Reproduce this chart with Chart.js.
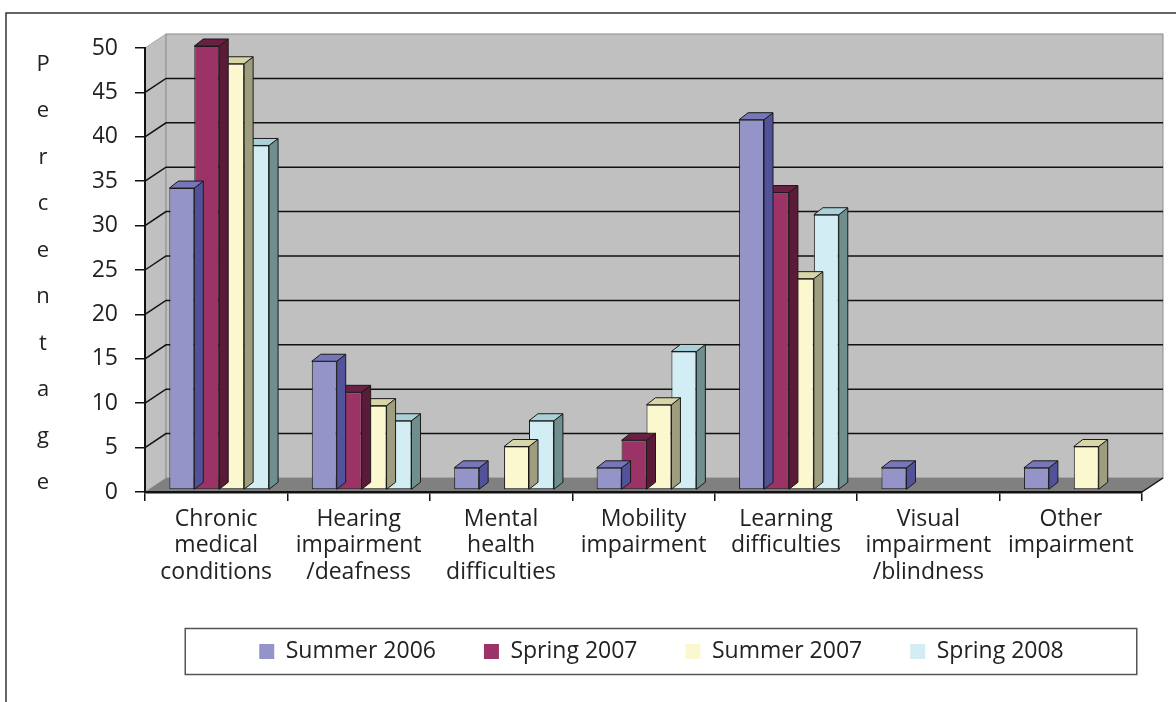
<!DOCTYPE html>
<html>
<head>
<meta charset="utf-8">
<script src="https://cdn.jsdelivr.net/npm/chart.js@4.4.1/dist/chart.umd.min.js"></script>
<style>
  html, body { margin: 0; padding: 0; background: #fff; }
  #wrap { width: 1176px; height: 702px; position: relative; }
</style>
</head>
<body>
<div id="wrap"><canvas id="chart" width="1176" height="702"></canvas></div>
<script>
const categories = [
  ["Chronic", "medical", "conditions"],
  ["Hearing", "impairment", "/deafness"],
  ["Mental", "health", "difficulties"],
  ["Mobility", "impairment"],
  ["Learning", "difficulties"],
  ["Visual", "impairment", "/blindness"],
  ["Other", "impairment"]
];
const seriesNames = ["Summer 2006", "Spring 2007", "Summer 2007", "Spring 2008"];
const summer2006 = [34, 14.5, 2.5, 2.5, 41.7, 2.5, 2.5];
const spring2007 = [50, 11, 0, 5.6, 33.5, 0, 0];
const summer2007 = [48, 9.5, 4.9, 9.6, 23.8, 0, 4.9];
const spring2008 = [38.8, 7.8, 7.8, 15.6, 31, 0, 0];
const yTicks = [0, 5, 10, 15, 20, 25, 30, 35, 40, 45, 50];
const axisTitle = "Percentage";

// face colours: front, side, top
const frontColors = ["#9494c8", "#9b3366", "#fbf8d0", "#d2edf3"];
const sideColors = ["#52529a", "#5a1a38", "#9e9e7e", "#6f8f8e"];
const topColors = ["#7676b8", "#6a1f45", "#d8d5a8", "#aad0d8"];

const FONT = "'Open Sans', 'Noto Sans', sans-serif";
const WALL_DX = 21, WALL_DY = -14;
const BAR_DX = 9, BAR_DY = -7;
const BAR_SHIFT_X = 3, BAR_SHIFT_Y = -2;
const LEGEND_SHIFT = 18;

function poly(ctx, pts) {
  ctx.beginPath();
  ctx.moveTo(pts[0][0], pts[0][1]);
  for (let i = 1; i < pts.length; i++) ctx.lineTo(pts[i][0], pts[i][1]);
  ctx.closePath();
}

const box3d = {
  id: "box3d",
  afterLayout(chart) {
    // legend sits a little right of the plot centre in the original
    chart.legend.left += LEGEND_SHIFT;
    chart.legend.right += LEGEND_SHIFT;
  },
  beforeDraw(chart) {
    const { ctx, chartArea: a } = chart;
    const y = chart.scales.y;
    ctx.save();

    // outer frame
    ctx.strokeStyle = "#333";
    ctx.lineWidth = 1.5;
    ctx.beginPath();
    ctx.moveTo(6, chart.height);
    ctx.lineTo(6, 13);
    ctx.lineTo(chart.width, 13);
    ctx.stroke();

    // left wall
    ctx.fillStyle = "#c0c0c0";
    poly(ctx, [[a.left, a.top], [a.left + WALL_DX, a.top + WALL_DY], [a.left + WALL_DX, a.bottom + WALL_DY], [a.left, a.bottom]]);
    ctx.fill();
    ctx.strokeStyle = "#a8a8a8";
    ctx.lineWidth = 1;
    ctx.stroke();

    // back wall
    ctx.fillStyle = "#c0c0c0";
    ctx.fillRect(a.left + WALL_DX, a.top + WALL_DY, a.right - a.left, a.bottom - a.top);
    ctx.strokeStyle = "#8c8c8c";
    ctx.strokeRect(a.left + WALL_DX, a.top + WALL_DY, a.right - a.left, a.bottom - a.top);

    // floor
    ctx.fillStyle = "#808080";
    poly(ctx, [[a.left, a.bottom], [a.left + WALL_DX, a.bottom + WALL_DY], [a.right + WALL_DX, a.bottom + WALL_DY], [a.right, a.bottom]]);
    ctx.fill();
    ctx.strokeStyle = "#111";
    ctx.lineWidth = 1.5;
    ctx.beginPath();
    ctx.moveTo(a.right, a.bottom);
    ctx.lineTo(a.right + WALL_DX, a.bottom + WALL_DY);
    ctx.stroke();

    // gridlines on the walls
    ctx.strokeStyle = "#111";
    ctx.lineWidth = 1.5;
    yTicks.forEach(v => {
      if (v <= y.min || v >= y.max) return;
      const py = y.getPixelForValue(v);
      ctx.beginPath();
      ctx.moveTo(a.left, py);
      ctx.lineTo(a.left + WALL_DX, py + WALL_DY);
      ctx.lineTo(a.right + WALL_DX, py + WALL_DY);
      ctx.stroke();
    });

    // stacked axis title
    ctx.fillStyle = "#222";
    ctx.font = "22px " + FONT;
    ctx.textAlign = "center";
    ctx.textBaseline = "alphabetic";
    const letters = axisTitle.split("");
    const step = (a.bottom - a.top - 26) / (letters.length - 1);
    letters.forEach((ch, i) => ctx.fillText(ch, 43, a.top + 23 + i * step));

    ctx.restore();
  },
  beforeDatasetsDraw(chart) {
    chart.ctx.save();
    chart.ctx.translate(BAR_SHIFT_X, BAR_SHIFT_Y);
  },
  beforeDatasetDraw(chart, args) {
    const { ctx } = chart;
    const idx = args.index;
    const values = chart.data.datasets[idx].data;
    ctx.save();
    ctx.strokeStyle = "#1a1a1a";
    ctx.lineWidth = 1;
    args.meta.data.forEach((el, i) => {
      if (!values[i]) return;
      const p = el.getProps(["x", "y", "base", "width"], true);
      const l = p.x - p.width / 2, r = p.x + p.width / 2;
      ctx.fillStyle = sideColors[idx];
      poly(ctx, [[r, p.y], [r + BAR_DX, p.y + BAR_DY], [r + BAR_DX, p.base + BAR_DY], [r, p.base]]);
      ctx.fill();
      ctx.stroke();
      ctx.fillStyle = topColors[idx];
      poly(ctx, [[l, p.y], [l + BAR_DX, p.y + BAR_DY], [r + BAR_DX, p.y + BAR_DY], [r, p.y]]);
      ctx.fill();
      ctx.stroke();
    });
    ctx.restore();
  },
  afterDatasetsDraw(chart) {
    chart.ctx.restore();
  },
  afterDraw(chart) {
    const { ctx } = chart;
    const boxes = chart.legend.legendHitBoxes;
    if (!boxes || !boxes.length) return;
    const left = Math.min(...boxes.map(b => b.left)) - 74;
    const right = Math.max(...boxes.map(b => b.left + b.width)) + 73;
    const mid = boxes[0].top + boxes[0].height / 2;
    ctx.save();
    ctx.strokeStyle = "#555";
    ctx.lineWidth = 1.5;
    ctx.strokeRect(left, mid - 23, right - left, 46);
    ctx.restore();
  }
};

const seriesValues = [summer2006, spring2007, summer2007, spring2008];

new Chart(document.getElementById("chart"), {
  type: "bar",
  data: {
    labels: categories,
    datasets: seriesValues.map((vals, i) => ({
      label: seriesNames[i],
      data: vals,
      backgroundColor: frontColors[i],
      borderColor: "#1a1a1a",
      borderWidth: 1,
      borderSkipped: false,
      clip: false
    }))
  },
  options: {
    responsive: false,
    animation: false,
    categoryPercentage: 0.7,
    barPercentage: 1,
    layout: { padding: { left: 93, top: 48, right: 34, bottom: 29 } },
    plugins: {
      tooltip: { enabled: false },
      legend: {
        position: "bottom",
        fullSize: false,
        labels: {
          font: { family: FONT, size: 23 },
          color: "#222",
          boxWidth: 15,
          boxHeight: 15,
          padding: 48,
          generateLabels(chart) {
            return Chart.defaults.plugins.legend.labels.generateLabels(chart)
              .map(it => Object.assign(it, { strokeStyle: it.fillStyle, lineWidth: 0 }));
          }
        }
      }
    },
    scales: {
      x: {
        grid: { display: true, offset: true, drawOnChartArea: false, drawTicks: true, tickLength: 9, color: "#111", lineWidth: 1.5 },
        border: { display: true, color: "#111", width: 2.5 },
        ticks: { font: { family: FONT, size: 23, lineHeight: 1.15 }, color: "#222", padding: 5, maxRotation: 0, autoSkip: false },
        afterFit(s) { s.height = 100; }
      },
      y: {
        min: 0,
        max: 50,
        afterBuildTicks(s) { s.ticks = yTicks.map(v => ({ value: v })); },
        grid: { drawOnChartArea: false, tickLength: 10, color: "#111", lineWidth: 1.5 },
        border: { display: true, color: "#111", width: 2 },
        ticks: { font: { family: FONT, size: 23 }, color: "#222", padding: 17 },
        afterFit(s) { s.width = 52; }
      }
    }
  },
  plugins: [box3d]
});
</script>
</body>
</html>
